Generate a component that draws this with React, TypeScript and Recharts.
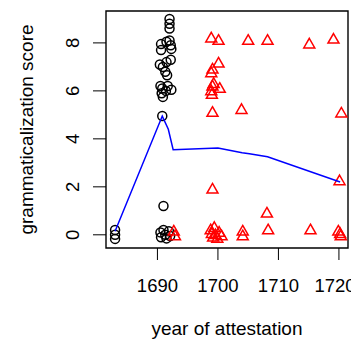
import { ComposedChart, Scatter, XAxis, YAxis, ReferenceArea } from 'recharts';

// early attestations (black circles)
const circleYears = [
  1683, 1683, 1683,
  1690.8, 1691.0,
  1690.5, 1690.6, 1691.0, 1691.3, 1691.5, 1691.9, 1692.1,
  1692.0, 1692.0, 1692.0,
  1690.6, 1690.6, 1691.5, 1692.0, 1692.2, 1692.3,
  1690.4, 1690.9, 1691.5, 1692.2, 1691.3, 1691.6,
  1690.5, 1690.7, 1690.9, 1691.4, 1691.7, 1692.3, 1690.8,
];
const circleScores = [
  0.2, 0.0, -0.17,
  4.95, 1.2,
  0.1, -0.1, 0.2, 0.0, -0.15, 0.15, -0.05,
  9.0, 8.8, 8.6,
  7.7, 7.95, 8.05, 8.1, 7.9, 7.75,
  7.1, 7.0, 7.2, 7.3, 6.8, 6.65,
  6.2, 5.9, 5.75, 6.0, 6.2, 6.05, 6.1,
];

// later attestations (red triangles)
const triangleYears = [
  1698.9, 1700.1, 1705.0, 1708.2, 1715.1, 1719.1,
  1700.1, 1699.1, 1698.9,
  1699.1, 1700.3, 1698.9, 1699.0, 1699.3,
  1699.1, 1703.9, 1720.4,
  1699.1, 1708.1, 1720.1,
  1692.7, 1692.9,
  1698.8, 1699.0, 1699.2, 1699.4, 1699.6, 1699.9, 1700.2, 1700.6,
  1704.1, 1704.1, 1708.3, 1715.3,
  1719.9, 1720.3, 1720.2,
];
const triangleScores = [
  8.2, 8.1, 8.1, 8.1, 7.95, 8.15,
  7.15, 6.9, 6.75,
  6.2, 6.1, 6.0, 5.85, 6.3,
  5.1, 5.22, 5.07,
  1.9, 0.9, 2.25,
  0.15, -0.05,
  0.2, 0.05, -0.1, 0.3, 0.0, -0.15, 0.1, -0.05,
  0.15, -0.05, 0.2, 0.2,
  0.15, -0.05, 0.05,
];

// smoothed trend (blue line)
const trendYears = [1683, 1690.8, 1691.8, 1692.6, 1700, 1704, 1705.2, 1708.2, 1720.2];
const trendScores = [0.15, 4.95, 4.4, 3.55, 3.62, 3.42, 3.38, 3.25, 2.2];

const xTicks = [1690, 1700, 1710, 1720];
const yTicks = [0, 2, 4, 6, 8];

const circles = circleYears.map((x, i) => ({ x, y: circleScores[i] }));
const triangles = triangleYears.map((x, i) => ({ x, y: triangleScores[i] }));
const trend = trendYears.map((x, i) => ({ x, y: trendScores[i] }));

const FONT = '"Liberation Sans", Arial, sans-serif';

const Circle = (p: any) => (
  <circle cx={p.cx} cy={p.cy} r={4.5} fill="none" stroke="#000" strokeWidth={1.5} />
);

const Triangle = (p: any) => {
  const { cx, cy } = p;
  return (
    <path
      d={`M${cx},${cy - 5.8} L${cx + 5.5},${cy + 3.8} L${cx - 5.5},${cy + 3.8} Z`}
      fill="none"
      stroke="#ff0000"
      strokeWidth={1.5}
    />
  );
};

const XTick = (p: any) => (
  <text x={p.x} y={292} textAnchor="middle" fontSize={18.5} fill="#000" fontFamily={FONT}>
    {p.payload.value}
  </text>
);

const YTick = (p: any) => (
  <text
    x={79}
    y={p.y}
    transform={`rotate(-90, 79, ${p.y})`}
    textAnchor="middle"
    fontSize={18.5}
    fill="#000"
    fontFamily={FONT}
  >
    {p.payload.value}
  </text>
);

export default function App() {
  return (
    <div style={{ position: 'absolute', left: 0, top: 0, background: '#fff' }}>
      <ComposedChart width={351} height={342} margin={{ top: 11, right: 3, left: 0, bottom: 0 }}>
        <XAxis
          type="number"
          dataKey="x"
          domain={[1681.5, 1721.5]}
          ticks={xTicks}
          allowDataOverflow
          height={94}
          axisLine={false}
          tickSize={12}
          tickLine={{ stroke: '#000', strokeWidth: 1 }}
          tick={<XTick />}
          label={{
            content: (lp: any) => {
              const vb = lp.viewBox;
              return (
                <text x={vb.x + vb.width / 2} y={335} textAnchor="middle" fontSize={19} fontFamily={FONT} fill="#000">
                  year of attestation
                </text>
              );
            },
          }}
        />
        <YAxis
          type="number"
          dataKey="y"
          domain={[-0.55, 9.33]}
          ticks={yTicks}
          allowDataOverflow
          width={106}
          axisLine={false}
          tickSize={13}
          tickLine={{ stroke: '#000', strokeWidth: 1 }}
          tick={<YTick />}
          label={{
            content: (lp: any) => {
              const vb = lp.viewBox;
              const cy = vb.y + vb.height / 2;
              return (
                <text x={33} y={cy} transform={`rotate(-90, 33, ${cy})`} textAnchor="middle" fontSize={19} fontFamily={FONT} fill="#000">
                  grammaticalization score
                </text>
              );
            },
          }}
        />
        <ReferenceArea
          x1={1681.5}
          x2={1721.5}
          y1={-0.55}
          y2={9.33}
          fill="none"
          fillOpacity={0}
          stroke="#000"
          strokeWidth={1.4}
          strokeOpacity={1}
          ifOverflow="visible"
        />
        <Scatter data={circles} shape={<Circle />} isAnimationActive={false} />
        <Scatter data={triangles} shape={<Triangle />} isAnimationActive={false} />
        <Scatter
          data={trend}
          fill="#0000ff"
          line={{ stroke: '#0000ff', strokeWidth: 1.5 }}
          shape={() => <g />}
          isAnimationActive={false}
        />
      </ComposedChart>
    </div>
  );
}
